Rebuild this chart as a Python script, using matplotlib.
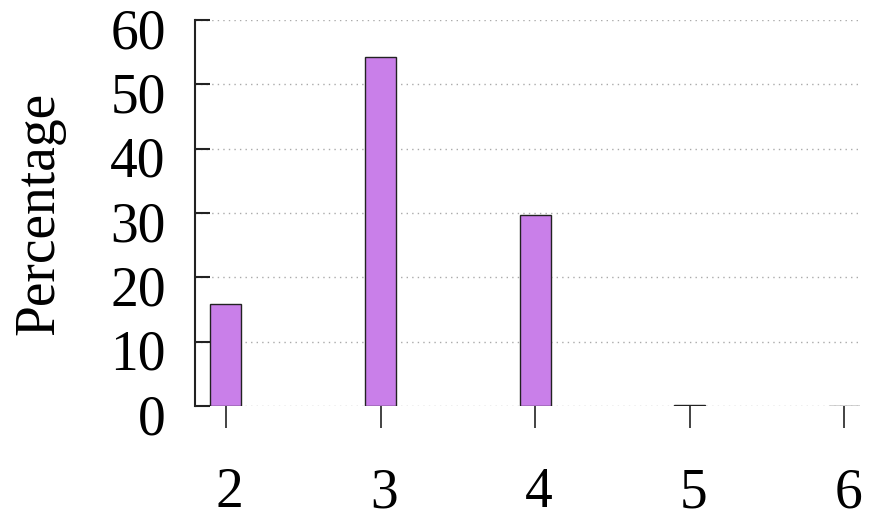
import numpy as np
import matplotlib.pyplot as plt
import matplotlib.transforms as mtransforms

# ---------------------------- data ----------------------------
categories = [2, 3, 4, 5, 6]
percentages = [15.9, 54.3, 29.7, 0.2, 0.05]
yticks = [0, 10, 20, 30, 40, 50, 60]

bar_color = '#c97fe9'
edge_color = '#222222'

plt.rcParams['font.family'] = ['Liberation Serif', 'DejaVu Serif']

fig = plt.figure(figsize=(8.72, 5.21), dpi=100)
ax = fig.add_axes((0.2236, 0.2207, 0.986 - 0.2236, 0.9616 - 0.2207))

ax.bar(categories, percentages, width=0.2, color=bar_color,
       edgecolor=edge_color, linewidth=1.0, zorder=3)

ax.set_xlim(1.8, 6.1)
ax.set_ylim(0, 60)
ax.set_xticks(categories)
ax.set_yticks(yticks)

# dotted horizontal grid
ax.yaxis.grid(True, linestyle=(0, (1, 3)), color='#aaaaaa', linewidth=1.0, zorder=0)
ax.set_axisbelow(True)

for s in ['top', 'right', 'bottom']:
    ax.spines[s].set_visible(False)
ax.spines['left'].set_linewidth(1.5)
ax.spines['left'].set_color('#222222')

ax.tick_params(axis='y', direction='in', length=11, width=1.5, color='#222222',
               labelsize=40, pad=21)
ax.tick_params(axis='x', direction='out', length=16, width=1.2, color='#222222',
               labelsize=40, pad=28)

# the reference labels sit a little off their ticks
ydown = mtransforms.ScaledTranslation(0, -8 / 100, fig.dpi_scale_trans)
for lab in ax.get_yticklabels():
    lab.set_transform(lab.get_transform() + ydown)
xright = mtransforms.ScaledTranslation(4 / 100, 0, fig.dpi_scale_trans)
for lab in ax.get_xticklabels():
    lab.set_transform(lab.get_transform() + xright)

ax.set_ylabel('Percentage', fontsize=40, labelpad=32)

fig.savefig('out.png', dpi=100)
